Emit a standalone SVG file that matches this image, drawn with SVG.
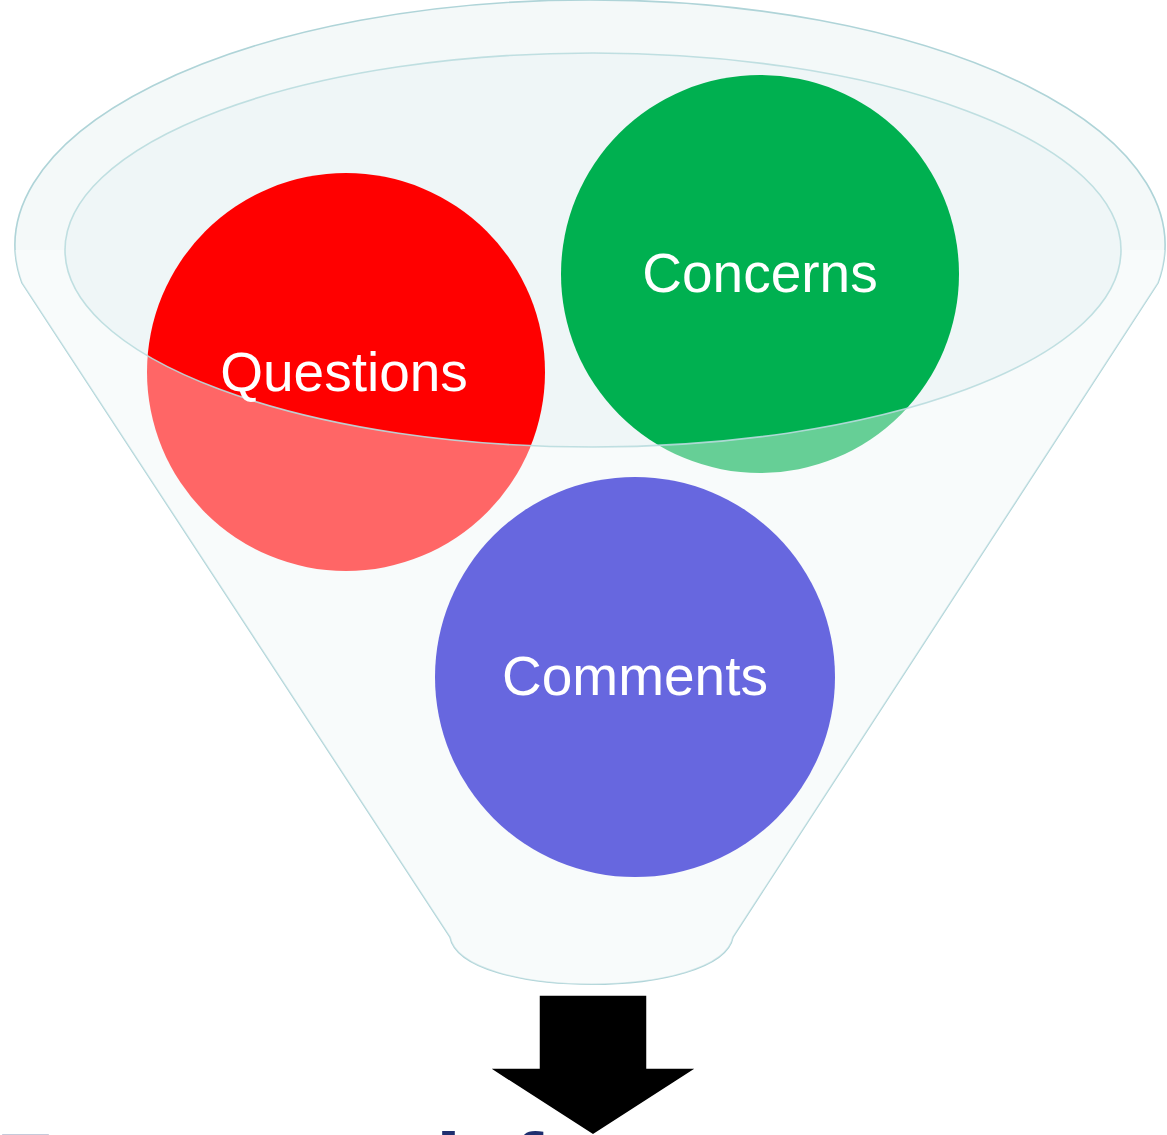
<svg xmlns="http://www.w3.org/2000/svg" width="1167" height="1135" viewBox="0 0 1167 1135">
  <style>
    .label { font-family: "Liberation Sans", Arial, sans-serif; font-size: 55px; fill: #ffffff; text-anchor: middle; }
    .title { font-family: "Liberation Sans", Arial, sans-serif; font-size: 92px; font-weight: bold; fill: #1F2F6F; }
  </style>
  <defs>
    <mask id="frontMask" maskUnits="userSpaceOnUse" x="0" y="0" width="1167" height="1135">
      <rect x="0" y="250" width="1167" height="885" fill="#fff"/>
      <ellipse cx="593" cy="250" rx="528" ry="197" fill="#000"/>
    </mask>
  </defs>
  <rect width="1167" height="1135" fill="#ffffff"/>

  <g id="funnel">
    <path id="funnel-body" d="M 22,283 A 575 245 0 1 1 1158,283 L 733,937 C 721,1000 462,1000 450,937 Z" fill="#F4F9F9" stroke="#AFD4D8" stroke-width="1.6"/>
    <ellipse id="funnel-mouth" cx="593" cy="250" rx="528" ry="197" fill="#EFF6F7"/>
  </g>

  <g id="node-questions">
    <circle cx="346" cy="372" r="199" fill="#FF0000"/>
  </g>
  <g id="node-concerns">
    <circle cx="760" cy="274" r="199" fill="#00B050"/>
  </g>

  <g id="funnel-front">
    <path d="M 22,283 A 575 245 0 1 1 1158,283 L 733,937 C 721,1000 462,1000 450,937 Z" fill="#ffffff" fill-opacity="0.4" mask="url(#frontMask)"/>
    <ellipse cx="593" cy="250" rx="528" ry="197" fill="none" stroke="#B9DBDE" stroke-width="1.6" stroke-opacity="0.9"/>
  </g>

  <g id="labels-top">
    <text class="label" x="344" y="391">Questions</text>
    <text class="label" x="760" y="292">Concerns</text>
  </g>

  <g id="node-comments">
    <circle cx="635" cy="677" r="200" fill="#6767DF"/>
    <text class="label" x="635" y="695">Comments</text>
  </g>

  <g id="connectors">
    <polygon points="539,995 647,995 647,1068 697,1068 593,1135 489,1068 539,1068" fill="#000000" stroke="#ffffff" stroke-width="1.5"/>
  </g>

  <g id="caption">
    <text class="title" x="-4" y="1198">Framework for</text>
  </g>
</svg>
